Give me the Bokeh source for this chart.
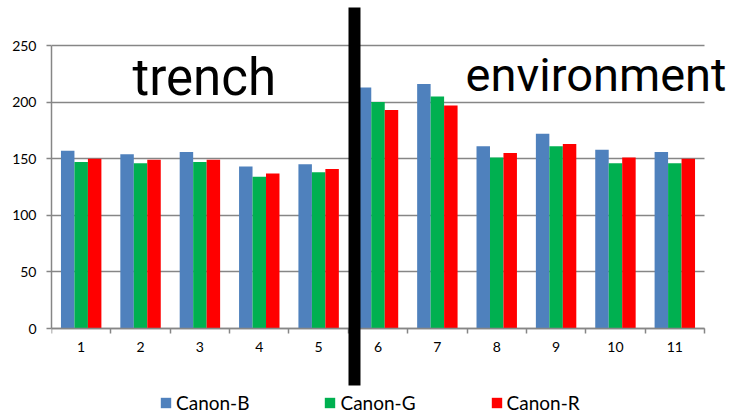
from bokeh.plotting import figure
from bokeh.models import (ColumnDataSource, FixedTicker, Range1d, Legend, LegendItem,
                          Label, BoxAnnotation)
from bokeh.transform import dodge
from bokeh.embed import file_html
from bokeh.resources import INLINE

# ---- data ----
categories = ["1", "2", "3", "4", "5", "6", "7", "8", "9", "10", "11"]
canon_b = [157, 154, 156, 143, 145, 213, 216, 161, 172, 158, 156]
canon_g = [147, 146, 147, 134, 138, 200, 205, 151, 161, 146, 146]
canon_r = [150, 149, 149, 137, 141, 193, 197, 155, 163, 151, 150]
series_names = ["Canon-B", "Canon-G", "Canon-R"]
y_ticks = [0, 50, 100, 150, 200, 250]
section_labels = ["trench", "environment"]

colors = ["#4F81BD", "#00B050", "#FF0000"]
GRAY = "#868686"
FONT = "Lato"

n = len(categories)
xs = list(range(1, n + 1))
source = ColumnDataSource(dict(x=xs, b=canon_b, g=canon_g, r=canon_r))

# frame covers the canvas to the right of the y axis; axis pinned at y=0
PX_PER_CAT = 653.0 / n
PX_PER_UNIT = 283.0 / 250
x_end = 0.5 + 685.0 / PX_PER_CAT
y_top = 250 + 45.0 / PX_PER_UNIT
y_bot = -89.0 / PX_PER_UNIT

p = figure(width=736, height=417, x_range=Range1d(0.5, x_end),
           y_range=Range1d(y_bot, y_top), output_backend="svg", toolbar_location=None,
           min_border_left=51, min_border_right=0, min_border_top=0,
           min_border_bottom=0)
p.outline_line_color = None
p.background_fill_color = "white"
p.border_fill_color = "white"

bw = 0.227
renderers = []
for col, off, c in zip(["b", "g", "r"], [-bw, 0, bw], colors):
    r = p.vbar(x=dodge("x", off, range=p.x_range), top=col, width=bw, source=source,
               fill_color=c, line_color=None)
    renderers.append(r)

# horizontal grid lines limited to the category span
grid = p.ygrid[0]
if "cross_bounds" in grid.properties():
    grid.ticker = FixedTicker(ticks=y_ticks)
    grid.grid_line_color = GRAY
    grid.grid_line_width = 1.5
    grid.cross_bounds = (0.5, n + 0.5)
    grid.level = "underlay"
else:
    grid.visible = False
    p.segment(x0=[0.5] * len(y_ticks), x1=[n + 0.5] * len(y_ticks), y0=y_ticks, y1=y_ticks,
              line_color=GRAY, line_width=1.5, level="underlay")
p.xgrid.visible = False

# axes
xa = p.xaxis[0]
xa.fixed_location = 0
xa.bounds = (0.5, n + 0.5)
xa.ticker = FixedTicker(ticks=xs, minor_ticks=[i + 0.5 for i in range(n + 1)])
xa.major_label_overrides = {i: lab for i, lab in zip(xs, categories)}
xa.major_tick_line_color = None
xa.major_tick_out = 0
xa.major_tick_in = 0
xa.minor_tick_in = 0
xa.minor_tick_out = 5
xa.minor_tick_line_color = GRAY
xa.minor_tick_line_width = 1.5
xa.axis_line_color = GRAY
xa.axis_line_width = 1.5
xa.major_label_standoff = 8

ya = p.yaxis[0]
ya.bounds = (0, 250)
ya.ticker = FixedTicker(ticks=y_ticks)
ya.minor_tick_line_color = None
ya.major_tick_in = 0
ya.major_tick_out = 5
ya.major_tick_line_color = GRAY
ya.major_tick_line_width = 1.5
ya.axis_line_color = GRAY
ya.axis_line_width = 1.5
ya.major_label_standoff = 10

for ax in (xa, ya):
    ax.major_label_text_font = FONT
    ax.major_label_text_font_size = "14px"
    ax.major_label_text_color = "#000000"

# divider bar
p.add_layout(BoxAnnotation(left=5.503, right=5.705, top=283.6, bottom=-50.4,
                           fill_color="black", fill_alpha=1.0, line_color=None,
                           level="overlay"))

# section labels
p.add_layout(Label(x=1.865, y=222.0, text=section_labels[0], text_font="Roboto",
                   text_font_size="51px", text_color="black", text_align="left",
                   text_baseline="alphabetic"))
p.add_layout(Label(x=7.476, y=224.0, text=section_labels[1], text_font="Roboto",
                   text_font_size="47px", text_color="black", text_align="left",
                   text_baseline="alphabetic"))

legend = Legend(items=[LegendItem(label=nm, renderers=[r]) for nm, r in zip(series_names, renderers)],
                orientation="horizontal", location=(108, 3), glyph_width=13,
                glyph_height=13, label_standoff=4, spacing=74, padding=0, margin=0,
                border_line_color=None, background_fill_alpha=0,
                label_text_font=FONT, label_text_font_size="19px",
                label_text_color="#000000")
p.add_layout(legend, "center")

open("out.html", "w").write(file_html(p, INLINE))
